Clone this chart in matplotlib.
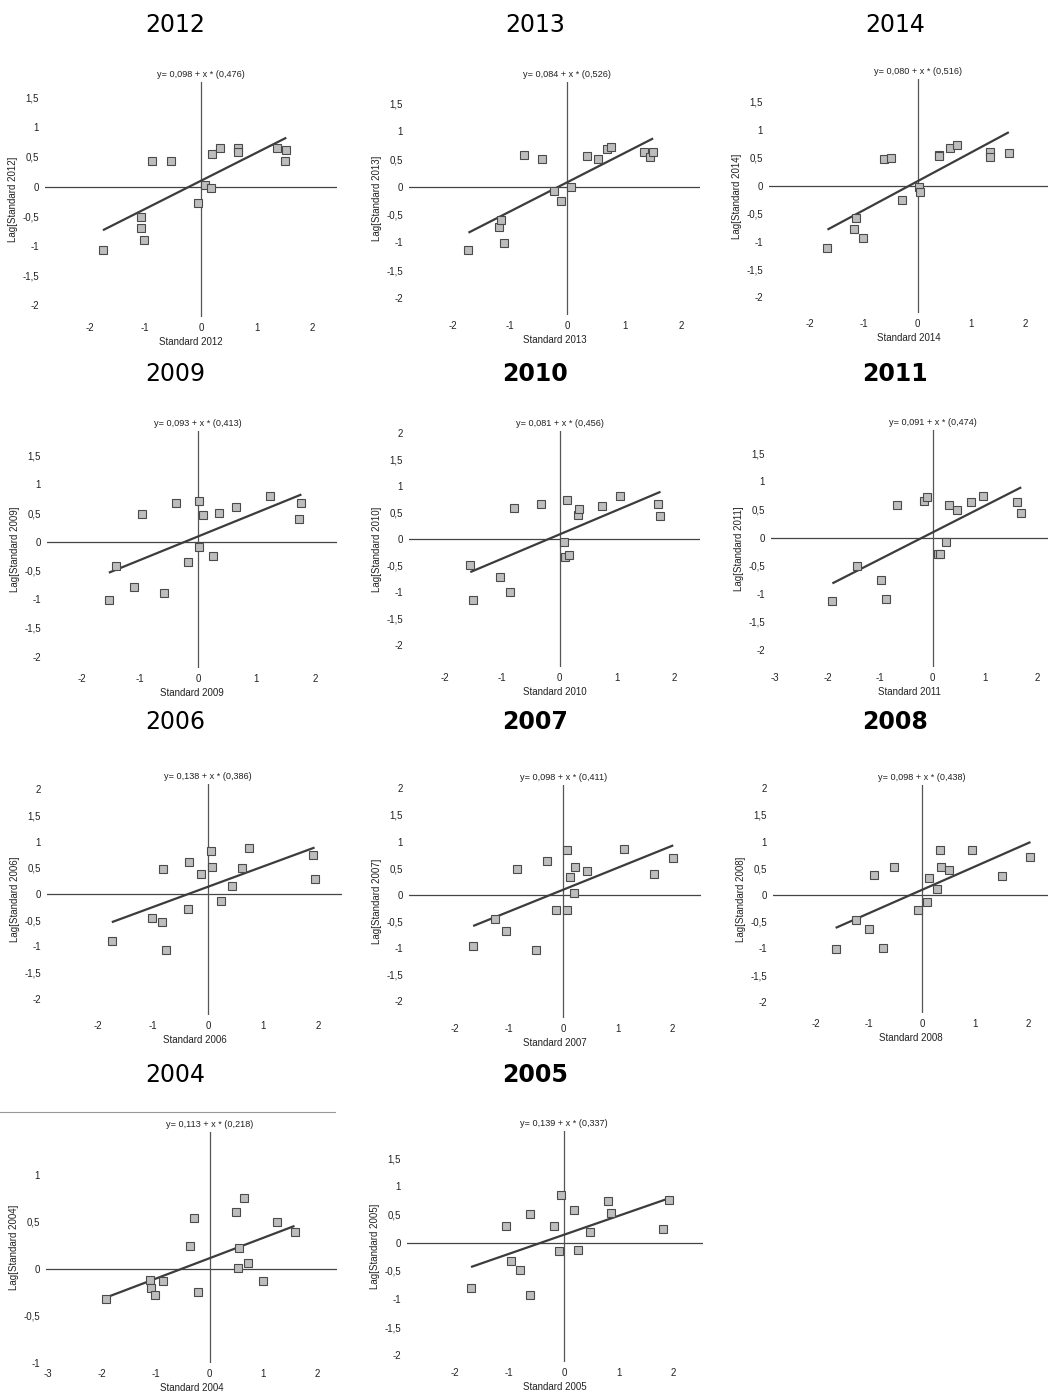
import numpy as np
import matplotlib
matplotlib.use("Agg")
import matplotlib.pyplot as plt
from matplotlib.ticker import MultipleLocator, FuncFormatter
from matplotlib.lines import Line2D

# Moran scatterplots: standardised value vs. spatial lag, one per year

years = [2012, 2013, 2014, 2009, 2010, 2011, 2006, 2007, 2008, 2004, 2005]
bold_years = [2010, 2011, 2007, 2008, 2005]

intercepts = [0.098, 0.084, 0.080, 0.093, 0.081, 0.091, 0.138, 0.098, 0.098, 0.113, 0.139]
slopes = [0.476, 0.526, 0.516, 0.413, 0.456, 0.474, 0.386, 0.411, 0.438, 0.218, 0.337]

std_2012 = [-1.76, -1.08, -1.08, -1.02, -0.88, -0.53, -0.05, 0.08, 0.17, 0.20, 0.34, 0.67, 0.67, 1.37, 1.53, 1.51]
lag_2012 = [-1.07, -0.51, -0.71, -0.91, 0.43, 0.43, -0.28, 0.03, -0.03, 0.55, 0.65, 0.66, 0.58, 0.66, 0.61, 0.44]

std_2013 = [-1.73, -1.20, -1.16, -1.10, -0.75, -0.45, -0.24, -0.11, 0.06, 0.35, 0.53, 0.70, 0.76, 1.34, 1.44, 1.50]
lag_2013 = [-1.13, -0.72, -0.59, -1.01, 0.58, 0.50, -0.08, -0.25, -0.01, 0.55, 0.50, 0.69, 0.72, 0.62, 0.53, 0.62]

std_2014 = [-1.68, -1.18, -1.14, -1.02, -0.63, -0.50, -0.29, 0.02, 0.04, 0.39, 0.40, 0.60, 0.74, 1.34, 1.34, 1.70]
lag_2014 = [-1.12, -0.78, -0.57, -0.93, 0.48, 0.49, -0.26, -0.03, -0.12, 0.55, 0.54, 0.68, 0.73, 0.60, 0.51, 0.58]

std_2009 = [-1.53, -1.40, -1.10, -0.96, -0.58, -0.38, -0.18, 0.01, 0.01, 0.09, 0.25, 0.35, 0.65, 1.23, 1.73, 1.77]
lag_2009 = [-1.02, -0.43, -0.78, 0.48, -0.89, 0.67, -0.36, 0.71, -0.10, 0.47, -0.25, 0.50, 0.60, 0.79, 0.40, 0.67]

std_2010 = [-1.56, -1.51, -1.05, -0.86, -0.80, -0.33, 0.08, 0.09, 0.12, 0.16, 0.32, 0.34, 0.74, 1.05, 1.71, 1.76]
lag_2010 = [-0.50, -1.16, -0.72, -1.00, 0.58, 0.66, -0.06, -0.35, 0.73, -0.30, 0.45, 0.55, 0.61, 0.80, 0.65, 0.42]

std_2011 = [-1.91, -1.44, -0.99, -0.89, -0.67, -0.17, -0.10, 0.11, 0.14, 0.26, 0.32, 0.46, 0.74, 0.97, 1.60, 1.69]
lag_2011 = [-1.12, -0.51, -0.76, -1.09, 0.58, 0.65, 0.72, -0.30, -0.30, -0.08, 0.57, 0.49, 0.63, 0.74, 0.63, 0.44]

std_2006 = [-1.75, -1.02, -0.83, -0.82, -0.76, -0.36, -0.35, -0.12, 0.06, 0.08, 0.24, 0.44, 0.62, 0.74, 1.91, 1.94]
lag_2006 = [-0.89, -0.45, -0.53, 0.48, -1.06, -0.28, 0.62, 0.38, 0.82, 0.52, -0.13, 0.15, 0.49, 0.88, 0.75, 0.29]

std_2007 = [-1.66, -1.26, -1.05, -0.85, -0.51, -0.31, -0.13, 0.06, 0.07, 0.12, 0.20, 0.22, 0.44, 1.11, 1.67, 2.02]
lag_2007 = [-0.96, -0.46, -0.68, 0.49, -1.03, 0.63, -0.29, -0.28, 0.84, 0.33, 0.04, 0.53, 0.45, 0.86, 0.39, 0.69]

std_2008 = [-1.63, -1.25, -1.01, -0.91, -0.73, -0.53, -0.08, 0.09, 0.13, 0.28, 0.33, 0.35, 0.50, 0.94, 1.51, 2.04]
lag_2008 = [-1.01, -0.46, -0.64, 0.37, -0.99, 0.52, -0.29, -0.13, 0.31, 0.11, 0.84, 0.52, 0.46, 0.84, 0.36, 0.71]

std_2004 = [-1.93, -1.10, -1.09, -1.02, -0.86, -0.37, -0.28, -0.22, 0.50, 0.65, 0.54, 0.53, 0.71, 0.99, 1.25, 1.58]
lag_2004 = [-0.32, -0.12, -0.21, -0.28, -0.13, 0.24, 0.54, -0.25, 0.61, 0.76, 0.22, 0.01, 0.06, -0.13, 0.50, 0.39]

std_2005 = [-1.70, -1.06, -0.97, -0.80, -0.63, -0.63, -0.19, -0.09, -0.05, 0.18, 0.26, 0.47, 0.80, 0.85, 1.80, 1.92]
lag_2005 = [-0.81, 0.30, -0.33, -0.49, 0.50, -0.93, 0.29, -0.15, 0.84, 0.58, -0.14, 0.19, 0.74, 0.53, 0.24, 0.75]

series = {
    2012: (std_2012, lag_2012), 2013: (std_2013, lag_2013), 2014: (std_2014, lag_2014),
    2009: (std_2009, lag_2009), 2010: (std_2010, lag_2010), 2011: (std_2011, lag_2011),
    2006: (std_2006, lag_2006), 2007: (std_2007, lag_2007), 2008: (std_2008, lag_2008),
    2004: (std_2004, lag_2004), 2005: (std_2005, lag_2005),
}

# panel boxes in pixels (left, top, right, bottom) and axis ranges
boxes = [
    (45, 82, 337, 317), (409, 82, 700, 315), (769, 79, 1048, 313),
    (47, 431, 337, 668), (409, 431, 700, 667), (771, 430, 1048, 667),
    (47, 784, 342, 1015), (409, 785, 701, 1018), (773, 785, 1048, 1013),
    (46, 1132, 337, 1363), (407, 1131, 703, 1362),
]
xlims = [(-2.80, 2.44), (-2.77, 2.32), (-2.77, 2.43),
         (-2.59, 2.38), (-2.63, 2.45), (-3.08, 2.20),
         (-2.93, 2.44), (-2.84, 2.53), (-2.81, 2.37),
         (-3.04, 2.37), (-2.87, 2.54)]
ylims = [(-2.21, 1.77), (-2.31, 1.89), (-2.28, 1.91),
         (-2.20, 1.93), (-2.42, 2.03), (-2.30, 1.91),
         (-2.31, 2.10), (-2.31, 2.06), (-2.21, 2.06),
         (-1.005, 1.46), (-2.12, 1.98)]
head_pos = [(175, 25), (535, 25), (895, 25),
            (175, 374), (535, 374), (895, 374),
            (175, 722), (535, 722), (895, 722),
            (175, 1075), (535, 1075)]

W, H = 1048, 1393
narrow = ['Liberation Sans Narrow', 'Liberation Sans', 'DejaVu Sans']


def comma(v, pos=None):
    s = ('%.2f' % v).rstrip('0').rstrip('.')
    if s == '-0':
        s = '0'
    return s.replace('.', ',')


fig = plt.figure(figsize=(W / 100, H / 100), dpi=100)
fig.patch.set_facecolor('white')

for i, yr in enumerate(years):
    l, t, r, b = boxes[i]
    ax = fig.add_axes([l / W, 1 - b / H, (r - l) / W, (b - t) / H])
    xs = np.array(series[yr][0])
    ys = np.array(series[yr][1])

    ax.axhline(0, color='#444444', lw=0.9, zorder=1)
    ax.axvline(0, color='#555555', lw=0.9, zorder=1)

    # fitted line drawn over the range of the data
    lx = np.array([xs.min(), xs.max()])
    ax.plot(lx, intercepts[i] + slopes[i] * lx, color='#3c3c3c', lw=1.6, zorder=2,
            solid_capstyle='butt')
    ax.plot(xs, ys, 's', ms=5.3, mfc='#bdbdbd', mec='#4a4a4a', mew=0.8, zorder=3)

    ax.set_xlim(*xlims[i])
    ax.set_ylim(*ylims[i])
    ax.xaxis.set_major_locator(MultipleLocator(1))
    ax.yaxis.set_major_locator(MultipleLocator(0.5))
    ax.xaxis.set_major_formatter(FuncFormatter(comma))
    ax.yaxis.set_major_formatter(FuncFormatter(comma))
    ax.tick_params(length=0, labelsize=7, colors='#222222', pad=4.5)
    for lab in ax.get_xticklabels() + ax.get_yticklabels():
        lab.set_family(narrow)
    for sp in ax.spines.values():
        sp.set_visible(False)
    ax.patch.set_alpha(0)

    ax.set_xlabel('Standard %d' % yr, fontsize=7, family=narrow, color='#222222', labelpad=3)
    ax.set_ylabel('Lag[Standard %d]' % yr, fontsize=7, family=narrow, color='#222222', labelpad=3)

    eq = 'y= %s + x * (%s)' % (('%.3f' % intercepts[i]).replace('.', ','),
                               ('%.3f' % slopes[i]).replace('.', ','))
    ax.annotate(eq, xy=(0, 1), xycoords=('data', 'axes fraction'), xytext=(0, 2),
                textcoords='offset points', ha='center', va='bottom',
                fontsize=6.6, family=narrow, color='#222222')

    hx, hy = head_pos[i]
    fig.text(hx / W, 1 - hy / H, str(yr), ha='center', va='center', fontsize=17,
             family='DejaVu Sans', fontweight='bold' if yr in bold_years else 'normal',
             color='black')

# thin rule above the 2004 panel
fig.add_artist(Line2D([0, 335 / W], [1 - 1112 / H, 1 - 1112 / H], color='#999999', lw=0.8))

fig.savefig('out.png', dpi=100, facecolor='white')
